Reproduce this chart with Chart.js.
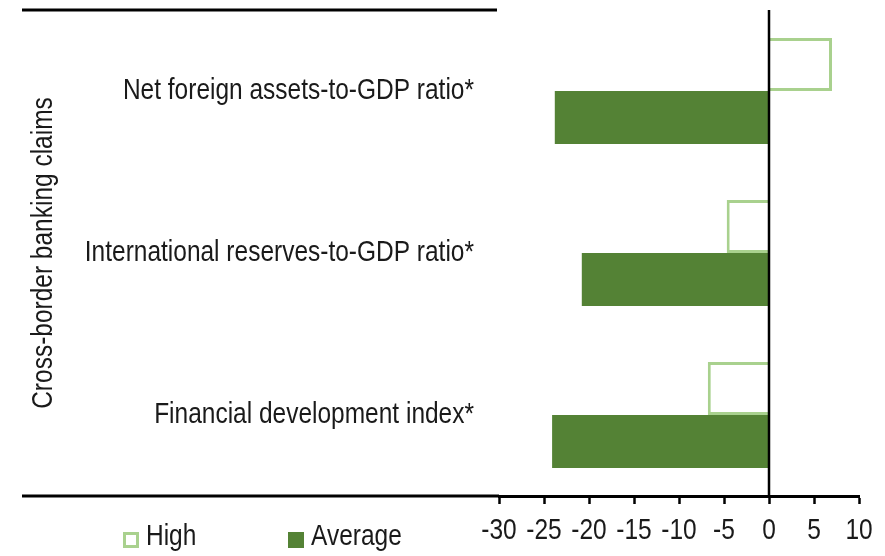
<!DOCTYPE html>
<html>
<head>
<meta charset="utf-8">
<script src="https://cdn.jsdelivr.net/npm/chart.js@4"></script>
<style>
  html, body { margin: 0; padding: 0; background: #fff; }
  #wrap { width: 885px; height: 556px; position: relative; }
</style>
</head>
<body>
<div id="wrap"><canvas id="c"></canvas></div>
<script>
// data
const categories = ['Net foreign assets-to-GDP ratio*', 'International reserves-to-GDP ratio*', 'Financial development index*'];
const seriesNames = ['High', 'Average'];
const highValues = [7.0, -4.7, -6.8];
const averageValues = [-23.8, -20.8, -24.1];
const xTicks = [-30, -25, -20, -15, -10, -5, 0, 5, 10];

// the original uses Arial Narrow; no narrow face here, so squeeze Liberation Sans
const FONT = "'Liberation Sans', Arial, sans-serif";
const FS = 29.5;
const NARROW = 0.83;
const TXT = '#1a1a1a';
const LIGHT = '#A9D18E', DARK = '#548235';

const canvas = document.getElementById('c');
const ctx2d = canvas.getContext('2d');
const origFill = ctx2d.fillText.bind(ctx2d);
ctx2d.fillText = function (t, x, y, mw) {
  const w = this.measureText(t).width * NARROW;
  return origFill(t, x, y, mw === undefined ? w : Math.min(mw, w));
};

// rules, zero line and the legend row
const decor = {
  id: 'decor',
  afterDatasetsDraw(chart) {
    const { ctx, chartArea: a, scales: { x } } = chart;
    ctx.save();
    ctx.strokeStyle = '#000';
    ctx.lineWidth = 3;
    ctx.beginPath();
    ctx.moveTo(22, a.top); ctx.lineTo(497, a.top);
    ctx.moveTo(22, a.bottom); ctx.lineTo(a.left, a.bottom);
    ctx.stroke();
    const x0 = Math.round(x.getPixelForValue(0));
    ctx.lineWidth = 2.5;
    ctx.beginPath();
    ctx.moveTo(x0, a.top); ctx.lineTo(x0, a.bottom);
    ctx.stroke();

    // legend
    const startX = [123, 288];
    const y = 532;
    ctx.font = FS + 'px ' + FONT;
    ctx.textBaseline = 'middle';
    ctx.textAlign = 'left';
    chart.data.datasets.forEach((ds, i) => {
      const bx = startX[i];
      if (ds.backgroundColor === '#fff') {
        ctx.fillStyle = '#fff';
        ctx.fillRect(bx, y, 16, 16);
        ctx.strokeStyle = ds.borderColor;
        ctx.lineWidth = 3;
        ctx.strokeRect(bx + 1.5, y + 1.5, 13, 13);
      } else {
        ctx.fillStyle = ds.backgroundColor;
        ctx.fillRect(bx, y, 16, 16);
      }
      ctx.fillStyle = TXT;
      ctx.fillText(ds.label, bx + 23, y + 5);
    });
    ctx.restore();
  }
};

new Chart(canvas, {
  type: 'bar',
  data: {
    labels: categories,
    datasets: [
      { label: seriesNames[0], data: highValues, backgroundColor: '#fff', borderColor: LIGHT, borderWidth: 3 },
      { label: seriesNames[1], data: averageValues, backgroundColor: DARK, borderWidth: 0 }
    ]
  },
  options: {
    indexAxis: 'y',
    responsive: true,
    maintainAspectRatio: false,
    animation: false,
    layout: { padding: { top: 10, right: 26, bottom: 0, left: 0 } },
    datasets: { bar: { categoryPercentage: 0.654, barPercentage: 1 } },
    plugins: { legend: { display: false }, tooltip: { enabled: false } },
    scales: {
      x: {
        min: -30, max: 10,
        afterBuildTicks: s => { s.ticks = xTicks.map(v => ({ value: v })); },
        afterFit: s => { s.height = 60; s.paddingLeft = 0; s.paddingRight = 0; },
        grid: { color: 'transparent', tickColor: '#000', tickLength: 8, tickWidth: 2.5 },
        border: { color: '#000', width: 3 },
        ticks: { color: TXT, font: { family: FONT, size: FS }, padding: 9, maxRotation: 0, autoSkip: false }
      },
      y: {
        afterFit: s => { s.width = 499; s.paddingTop = 0; s.paddingBottom = 0; },
        grid: { display: false, drawTicks: false },
        border: { display: false },
        ticks: { color: TXT, font: { family: FONT, size: FS }, padding: 25, autoSkip: false },
        title: { display: true, text: 'Cross-border banking claims', color: TXT,
                 font: { family: FONT, size: FS }, padding: { top: 26, bottom: 0 } }
      }
    }
  },
  plugins: [decor]
});
</script>
</body>
</html>
